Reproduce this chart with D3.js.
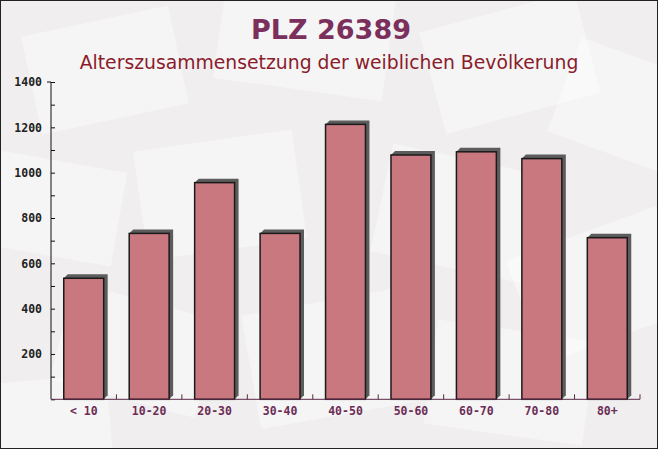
<!DOCTYPE html>
<html><head><meta charset="utf-8">
<script src="https://cdn.jsdelivr.net/npm/d3@7"></script>
<style>html,body{margin:0;padding:0;background:#fff}svg{display:block}</style>
</head><body>
<script>
const categories = ["< 10","10-20","20-30","30-40","40-50","50-60","60-70","70-80","80+"];
const values = [534, 732, 956, 732, 1213, 1078, 1092, 1062, 713];
const yTicks = [0,200,400,600,800,1000,1200,1400];
const title = "PLZ 26389";
const subtitle = "Alterszusammensetzung der weiblichen Bevölkerung";

const W = 658, H = 449;
const svg = d3.select("body").append("svg").attr("width", W).attr("height", H);

// background
svg.append("rect").attr("width", W).attr("height", H).attr("fill", "#f1eeef");
const deco = [
  [30,20,150,100,-12],[220,-20,170,110,8],[430,10,160,105,-15],[560,60,150,100,20],
  [-20,160,140,95,10],[140,140,160,110,-8],[380,160,170,110,12],[520,230,160,110,-20],
  [60,300,150,100,15],[250,300,170,115,-10],[430,330,160,105,8],[-30,380,140,90,-5]
];
const dg = svg.append("g");
deco.forEach(d => {
  dg.append("rect").attr("x", d[0]).attr("y", d[1]).attr("width", d[2]).attr("height", d[3])
    .attr("fill", "#ffffff").attr("opacity", 0.4)
    .attr("transform", `rotate(${d[4]},${d[0]+d[2]/2},${d[1]+d[3]/2})`);
});

const m = {left: 51, right: 18, top: 82, bottom: 449-399.3};
const x = d3.scaleBand().domain(categories).range([m.left, W - m.right]).paddingInner(0.39).paddingOuter(0.195);
const y = d3.scaleLinear().domain([0, 1400]).range([H - m.bottom, m.top]);

// bars with 3D shadow
const d = 4;
const g = svg.append("g");
categories.forEach((c, i) => {
  const bx = x(c), bw = x.bandwidth(), by = y(values[i]), b0 = y(0);
  g.append("path")
    .attr("d", `M${bx},${by} L${bx+d},${by-d} L${bx+bw+d},${by-d} L${bx+bw+d},${b0-d} L${bx+bw},${b0} Z`)
    .attr("fill", "#5c5c5c");
  g.append("rect").attr("x", bx).attr("y", by).attr("width", bw).attr("height", b0 - by)
    .attr("fill", "#c9787f").attr("stroke", "#1a1a1a").attr("stroke-width", 1.5);
});

// y axis
const yAxis = d3.axisLeft(y).tickValues(d3.range(0, 1401, 100)).tickSize(-4).tickPadding(9)
  .tickFormat(v => yTicks.includes(v) && v > 0 ? v : "");
const ya = svg.append("g").attr("transform", `translate(${m.left},0)`).call(yAxis);
ya.select(".domain").attr("stroke", "#111").attr("d", `M0,${y(0)}V${y(1400)}H-4`);
ya.selectAll(".tick line").attr("stroke", "#111");
ya.selectAll(".tick text").attr("fill", "#222").attr("font-family", "DejaVu Sans Mono")
  .attr("font-weight", "bold").attr("font-size", 11.5);

// x axis
const xa = svg.append("g").attr("transform", `translate(0,${y(0)})`)
  .call(d3.axisBottom(x).tickSize(0).tickPadding(8));
xa.select(".domain").attr("stroke", "#5a2a48").attr("d", `M${m.left},0H${W - m.right}`);
xa.selectAll(".tick text").attr("fill", "#6b2d55").attr("font-family", "DejaVu Sans Mono")
  .attr("font-weight", "bold").attr("font-size", 11.5);
const step = x.step();
d3.range(1, categories.length + 1).forEach(k => {
  const tx = m.left + k * step;
  svg.append("line").attr("x1", tx).attr("x2", tx).attr("y1", y(0)).attr("y2", y(0) - 5)
    .attr("stroke", "#5a2a48");
});

// titles
svg.append("text").attr("x", W/2 + 2).attr("y", 39).attr("text-anchor", "middle")
  .attr("font-family", "DejaVu Sans").attr("font-weight", "bold").attr("font-size", 27)
  .attr("fill", "#7b2f5c").text(title);
svg.append("text").attr("x", W/2).attr("y", 69).attr("text-anchor", "middle")
  .attr("font-family", "DejaVu Sans").attr("font-size", 18.8)
  .attr("fill", "#8a1c2c").text(subtitle);

// frame
svg.append("rect").attr("x", 0.5).attr("y", 0.5).attr("width", W - 1).attr("height", H - 1)
  .attr("fill", "none").attr("stroke", "#222");
</script>
</body></html>
